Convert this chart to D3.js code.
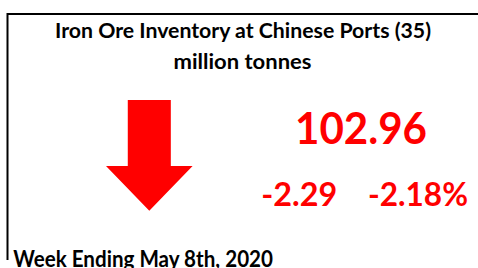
<!DOCTYPE html>
<meta charset="utf-8">
<title>Iron Ore Inventory</title>
<style>
  body {
    margin: 0;
    background: #fff;
  }

  svg text {
    font-family: Lato, "Open Sans", sans-serif;
    font-weight: 700;
  }

  .title, .footer {
    fill: #000;
  }

  .value, .change {
    fill: #ff0000;
  }
</style>
<svg width="478" height="268"></svg>
<script src="https://cdn.jsdelivr.net/npm/d3@7/dist/d3.min.js"></script>
<script>
  // figures shown on the card
  var titleLines = ["Iron Ore Inventory at Chinese Ports (35)", "million tonnes"];
  var latest = [102.96];
  var changes = [-2.29, -2.18];
  var changeUnits = ["", "%"];
  var footer = ["Week Ending May 8th, 2020"];

  var svg = d3.select("svg"),
    width = +svg.attr("width"),
    height = +svg.attr("height");

  // plain hyphen for negatives, as on the card
  var fmt = d3.formatLocale({
    decimal: ".", thousands: ",", grouping: [3], currency: ["", ""], minus: "-"
  }).format(".2f");

  // frame (top and left edges are the only ones in view)
  svg.append("path")
    .attr("d", "M7.5," + height * 0.97 + "V14H" + width)
    .attr("fill", "none")
    .attr("stroke", "#000")
    .attr("stroke-width", 2);

  // title
  var titleBox = [
    {x: 243, y: 38, w: 376, size: 20},
    {x: 242.5, y: 69, w: 138, size: 20}
  ];

  svg.append("g")
    .attr("class", "title")
    .selectAll("text")
    .data(titleLines)
    .enter().append("text")
    .attr("x", function(d, i) { return titleBox[i].x; })
    .attr("y", function(d, i) { return titleBox[i].y; })
    .attr("text-anchor", "middle")
    .attr("font-size", function(d, i) { return titleBox[i].size; })
    .attr("textLength", function(d, i) { return titleBox[i].w; })
    .attr("lengthAdjust", "spacingAndGlyphs")
    .text(function(d) { return d; });

  // down arrow, unit shape mapped onto the card with scales
  var ax = d3.scaleLinear().domain([-1, 1]).range([106, 192.6]),
    ay = d3.scaleLinear().domain([0, 1]).range([100, 210.7]);

  var arrowShape = [
    [-0.497, 0], [0.497, 0], [0.497, 0.596], [1, 0.596],
    [0, 1], [-1, 0.596], [-0.497, 0.596]
  ];

  var down = changes[0] < 0;

  svg.append("path")
    .datum(arrowShape)
    .attr("d", d3.line()
      .x(function(d) { return ax(d[0]); })
      .y(function(d) { return ay(down ? d[1] : 1 - d[1]); })
      .curve(d3.curveLinearClosed))
    .attr("fill", down ? "#ff0000" : "#00b050");

  // latest value
  svg.append("text")
    .attr("class", "value")
    .attr("x", 361)
    .attr("y", 144)
    .attr("text-anchor", "middle")
    .attr("font-size", 44.5)
    .attr("textLength", 132)
    .attr("lengthAdjust", "spacingAndGlyphs")
    .text(fmt(latest[0]));

  // weekly change, absolute and percent
  var changeBox = [
    {x: 299.3, w: 76},
    {x: 418, w: 100}
  ];

  svg.append("g")
    .selectAll("text")
    .data(changes)
    .enter().append("text")
    .attr("class", "change")
    .attr("x", function(d, i) { return changeBox[i].x; })
    .attr("y", 206)
    .attr("text-anchor", "middle")
    .attr("font-size", 31.5)
    .attr("textLength", function(d, i) { return changeBox[i].w; })
    .attr("lengthAdjust", "spacingAndGlyphs")
    .text(function(d, i) { return fmt(d) + changeUnits[i]; });

  // footer
  svg.append("text")
    .attr("class", "footer")
    .attr("x", 13.3)
    .attr("y", 267)
    .attr("font-size", 23)
    .attr("textLength", 259.7)
    .attr("lengthAdjust", "spacingAndGlyphs")
    .text(footer[0]);
</script>
